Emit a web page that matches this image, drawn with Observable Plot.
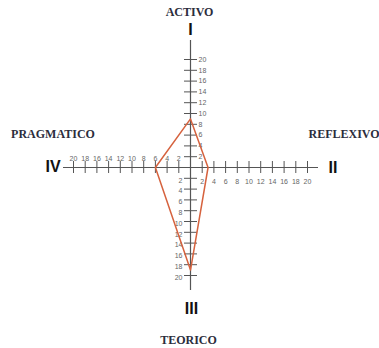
<!DOCTYPE html>
<html>
<head>
<meta charset="utf-8">
<script src="https://cdn.jsdelivr.net/npm/d3@7"></script>
<script src="https://cdn.jsdelivr.net/npm/@observablehq/plot@0.6"></script>
<style>
  html, body { margin: 0; padding: 0; background: #fff; }
  #chart svg { display: block; }
</style>
</head>
<body>
<div id="chart"></div>
<script>
// ---- data ----
const styles = ["ACTIVO", "REFLEXIVO", "TEORICO", "PRAGMATICO"];
const quadrants = ["I", "II", "III", "IV"];
const scores = [9, 3, 19, 6];
const tickValues = [2, 4, 6, 8, 10, 12, 14, 16, 18, 20];

// ---- layout ----
const W = 379, H = 348;
const cx = 190, cy = 167;   // centre of the cross, px
const ux = 5.85, uy = 5.4;  // px per unit
const X = px => (px - cx) / ux;
const Y = py => (cy - py) / uy;

// direction of each style on the cross
const dirs = [[0, 1], [1, 0], [0, -1], [-1, 0]];
const poly = styles.map((s, i) => ({style: s, x: dirs[i][0] * scores[i], y: dirs[i][1] * scores[i]}));

const axisColor = "#555";
const labelColor = "#666";
const titleColor = "#2b2d3c";
const lineColor = "#d6623e";

const titlesMid = [
  {t: styles[0], x: X(189), y: Y(12)},
  {t: styles[2], x: X(188), y: Y(340)},
  {t: styles[3], x: X(52.5), y: Y(134)}
];
const titlesStart = [
  {t: styles[1], x: X(308), y: Y(134)}
];
const romans = [
  {t: quadrants[0], x: X(190), y: Y(29)},
  {t: quadrants[1], x: X(332.5), y: Y(167)},
  {t: quadrants[2], x: X(191), y: Y(308)},
  {t: quadrants[3], x: X(52.5), y: Y(166)}
];

const titleStyle = {fontSize: 12, fontWeight: "bold", fontFamily: "Liberation Serif", fill: titleColor};

const chart = Plot.plot({
  width: W,
  height: H,
  margin: 0,
  x: {domain: [X(0), X(W)], axis: null},
  y: {domain: [Y(H), Y(0)], axis: null},
  marks: [
    // main cross
    Plot.ruleY([0], {x1: X(63), x2: X(318), stroke: axisColor, strokeWidth: 1.2}),
    Plot.ruleX([0], {y1: Y(290), y2: Y(40), stroke: axisColor, strokeWidth: 1.2}),
    // ticks on horizontal axis
    Plot.ruleX(tickValues, {x: d => d, y1: Y(173), y2: Y(161), stroke: axisColor}),
    Plot.ruleX(tickValues, {x: d => -d, y1: Y(173), y2: Y(161), stroke: axisColor}),
    // ticks on vertical axis
    Plot.ruleY(tickValues, {y: d => d, x1: X(184), x2: X(197), stroke: axisColor}),
    Plot.ruleY(tickValues, {y: d => -d, x1: X(184), x2: X(197), stroke: axisColor}),
    // tick labels
    Plot.text(tickValues, {x: 0, y: d => d, text: d => String(d), dx: 8, textAnchor: "start",
      fontSize: 7, fontFamily: "Liberation Sans", fill: labelColor}),
    Plot.text(tickValues, {x: 0, y: d => -d, text: d => String(d), dx: -8, dy: 2, textAnchor: "end",
      fontSize: 7, fontFamily: "Liberation Sans", fill: labelColor}),
    Plot.text(tickValues, {x: d => -d, y: 0, text: d => String(d), dy: -9,
      fontSize: 7, fontFamily: "Liberation Sans", fill: labelColor}),
    Plot.text(tickValues, {x: d => d, y: 0, text: d => String(d), dy: 14,
      fontSize: 7, fontFamily: "Liberation Sans", fill: labelColor}),
    // profile polygon
    Plot.line(poly, {x: "x", y: "y", curve: "linear-closed", stroke: lineColor, strokeWidth: 1.5}),
    // titles
    Plot.text(titlesMid, {x: "x", y: "y", text: "t", ...titleStyle}),
    Plot.text(titlesStart, {x: "x", y: "y", text: "t", textAnchor: "start", ...titleStyle}),
    Plot.text(romans, {x: "x", y: "y", text: "t",
      fontSize: 16, fontWeight: "bold", fontFamily: "Liberation Sans", fill: "#111"})
  ]
});
document.getElementById("chart").appendChild(chart);
</script>
</body>
</html>
